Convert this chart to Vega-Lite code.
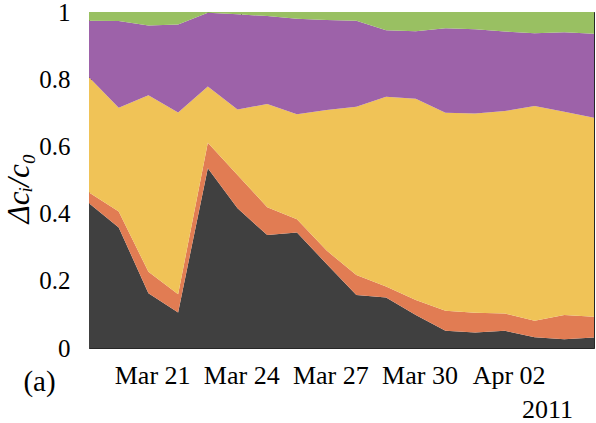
{
  "$schema": "https://vega.github.io/schema/vega-lite/v6.json",
  "width": 505,
  "height": 336,
  "autosize": {"type": "none"},
  "padding": {"left": 89, "top": 12, "right": 2, "bottom": 75},
  "background": "white",
  "title": {"text": "IMS station RN71 - reference", "fontSize": 26, "font": "Liberation Serif", "fontWeight": "normal", "color": "black", "anchor": "middle", "dx": -13, "offset": 9, "baseline": "alphabetic"},
  "data": {"values": [
    {"t": "2011-03-18T21:00:00", "c1": 0.431, "c2": 0.032, "c3": 0.343, "c4": 0.168, "c5": 0.026},
    {"t": "2011-03-19T21:00:00", "c1": 0.359, "c2": 0.047, "c3": 0.309, "c4": 0.258, "c5": 0.027},
    {"t": "2011-03-20T21:00:00", "c1": 0.163, "c2": 0.064, "c3": 0.525, "c4": 0.208, "c5": 0.040},
    {"t": "2011-03-21T21:00:00", "c1": 0.106, "c2": 0.054, "c3": 0.541, "c4": 0.262, "c5": 0.037},
    {"t": "2011-03-22T21:00:00", "c1": 0.535, "c2": 0.076, "c3": 0.167, "c4": 0.220, "c5": 0.002},
    {"t": "2011-03-23T21:00:00", "c1": 0.416, "c2": 0.099, "c3": 0.195, "c4": 0.283, "c5": 0.007},
    {"t": "2011-03-24T21:00:00", "c1": 0.336, "c2": 0.083, "c3": 0.307, "c4": 0.262, "c5": 0.012},
    {"t": "2011-03-25T21:00:00", "c1": 0.344, "c2": 0.039, "c3": 0.313, "c4": 0.284, "c5": 0.020},
    {"t": "2011-03-26T21:00:00", "c1": 0.250, "c2": 0.040, "c3": 0.418, "c4": 0.268, "c5": 0.024},
    {"t": "2011-03-27T21:00:00", "c1": 0.158, "c2": 0.059, "c3": 0.501, "c4": 0.256, "c5": 0.026},
    {"t": "2011-03-28T21:00:00", "c1": 0.150, "c2": 0.033, "c3": 0.565, "c4": 0.198, "c5": 0.054},
    {"t": "2011-03-29T21:00:00", "c1": 0.098, "c2": 0.045, "c3": 0.599, "c4": 0.201, "c5": 0.057},
    {"t": "2011-03-30T21:00:00", "c1": 0.051, "c2": 0.060, "c3": 0.589, "c4": 0.252, "c5": 0.048},
    {"t": "2011-03-31T21:00:00", "c1": 0.046, "c2": 0.059, "c3": 0.593, "c4": 0.251, "c5": 0.051},
    {"t": "2011-04-01T21:00:00", "c1": 0.051, "c2": 0.052, "c3": 0.602, "c4": 0.237, "c5": 0.058},
    {"t": "2011-04-02T21:00:00", "c1": 0.032, "c2": 0.049, "c3": 0.639, "c4": 0.217, "c5": 0.063},
    {"t": "2011-04-03T21:00:00", "c1": 0.026, "c2": 0.072, "c3": 0.605, "c4": 0.237, "c5": 0.060},
    {"t": "2011-04-04T21:00:00", "c1": 0.031, "c2": 0.062, "c3": 0.592, "c4": 0.250, "c5": 0.065}
  ]},
  "transform": [{"fold": ["c1", "c2", "c3", "c4", "c5"], "as": ["component", "value"]}],
  "config": {
    "font": "Liberation Serif",
    "view": {"stroke": null},
    "text": {"font": "Liberation Serif"},
    "axis": {
      "grid": false,
      "domainColor": "#262626",
      "tickColor": "#262626",
      "labelColor": "black",
      "titleColor": "black",
      "labelFont": "Liberation Serif",
      "titleFont": "Liberation Serif",
      "labelFontSize": 26,
      "labelFontWeight": "normal",
      "titleFontWeight": "normal",
      "tickSize": -6,
      "domainWidth": 1,
      "tickWidth": 1
    }
  },
  "layer": [
    {
      "mark": {"type": "area", "interpolate": "linear"},
      "encoding": {
        "x": {"field": "t", "type": "temporal",
          "scale": {"domain": ["2011-03-18T21:00:00", "2011-04-04T21:00:00"], "nice": false},
          "axis": {"orient": "bottom", "format": "%b %d", "labelFont": "Liberation Serif", "labelFontSize": 26,
            "values": [{"year": 2011, "month": "mar", "date": 21}, {"year": 2011, "month": "mar", "date": 24}, {"year": 2011, "month": "mar", "date": 27}, {"year": 2011, "month": "mar", "date": 30}, {"year": 2011, "month": "apr", "date": 2}],
            "labelPadding": 20, "labelFlush": false,
            "title": "2011", "titleFont": "Liberation Serif", "titleFontSize": 26, "titleX": 458, "titleY": 69, "titleAlign": "center", "titleBaseline": "alphabetic", "titleAngle": 0}},
        "y": {"field": "value", "type": "quantitative", "stack": "zero",
          "scale": {"domain": [0, 1], "nice": false},
          "axis": {"orient": "left", "values": [0, 0.2, 0.4, 0.6, 0.8, 1], "format": "~g", "labelPadding": 25, "labelFont": "Liberation Serif", "labelFontSize": 25,
            "title": "Δcᵢ/c₀", "titleFont": "Liberation Serif", "titleFontSize": 31, "titleFontStyle": "italic", "titleAngle": 270,
            "titleX": -61, "titleY": 176, "titleAlign": "center", "titleBaseline": "alphabetic"}},
        "color": {"field": "component", "type": "nominal",
          "scale": {"domain": ["c1", "c2", "c3", "c4", "c5"], "range": ["#404040", "#E17C53", "#F0C357", "#9D62A9", "#99C062"]},
          "legend": null},
        "order": {"field": "component", "sort": "ascending"}
      }
    },
    {
      "mark": {"type": "point", "opacity": 0},
      "encoding": {
        "x": {"field": "t", "type": "temporal",
          "scale": {"domain": ["2011-03-18T21:00:00", "2011-04-04T21:00:00"], "nice": false},
          "axis": {"orient": "top", "labels": false,
            "values": [{"year": 2011, "month": "mar", "date": 21}, {"year": 2011, "month": "mar", "date": 24}, {"year": 2011, "month": "mar", "date": 27}, {"year": 2011, "month": "mar", "date": 30}, {"year": 2011, "month": "apr", "date": 2}],
            "title": "(a)", "titleFont": "Liberation Serif", "titleFontSize": 29, "titleX": -50, "titleY": 378, "titleAlign": "center", "titleBaseline": "alphabetic", "titleAngle": 0}},
        "y": {"field": "value", "type": "quantitative",
          "scale": {"domain": [0, 1], "nice": false},
          "axis": {"orient": "right", "labels": false, "values": [0, 0.2, 0.4, 0.6, 0.8, 1], "title": null}}
      }
    }
  ],
  "resolve": {"axis": {"x": "independent", "y": "independent"}}
}
